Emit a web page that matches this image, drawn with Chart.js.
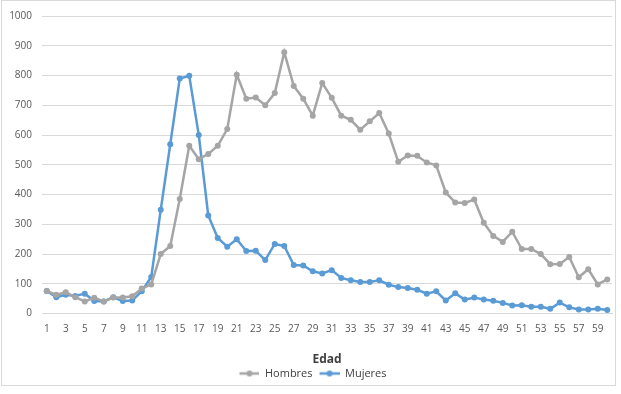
<!DOCTYPE html>
<html>
<head>
<meta charset="utf-8">
<script src="https://cdn.jsdelivr.net/npm/chart.js@4.4.1/dist/chart.umd.min.js"></script>
<style>
  html, body { margin: 0; padding: 0; background: #fff; }
  #frame {
    position: absolute; left: 1px; top: 0px; width: 615px; height: 386px;
    border: 1px solid #d9d9d9; box-sizing: border-box;
  }
  #wrap { position: absolute; left: 0; top: 0; width: 621px; height: 394px; }
</style>
</head>
<body>
<div id="frame"></div>
<div id="wrap"><canvas id="chart" width="621" height="394"></canvas></div>
<script>
const edades = Array.from({ length: 60 }, (_, i) => String(i + 1));

const hombres = [
  76, 63, 72, 55, 41, 53, 41, 54, 54, 58,
  84, 98, 200, 227, 385, 564, 519, 536, 564, 620,
  803, 722, 726, 700, 741, 878, 765, 722, 665, 775,
  725, 665, 651, 618, 646, 674, 605, 510, 531, 530,
  508, 498, 407, 373, 372, 383, 305, 261, 241, 275,
  217, 217, 200, 166, 167, 190, 122, 149, 98, 115
];

const mujeres = [
  76, 55, 63, 59, 67, 42, 41, 55, 42, 44,
  75, 123, 349, 569, 790, 799, 600, 330, 254, 225,
  250, 210, 211, 180, 234, 227, 163, 162, 142, 135,
  146, 120, 112, 106, 106, 112, 97, 89, 86, 80,
  67, 75, 44, 68, 47, 54, 47, 43, 36, 27,
  28, 23, 23, 16, 37, 21, 14, 14, 16, 12
];

const yTicks = [0, 100, 200, 300, 400, 500, 600, 700, 800, 900, 1000];

const GRIS = "#a5a5a5";
const AZUL = "#5b9bd5";
const FONT = "'Open Sans', 'Noto Sans', sans-serif";

// marcador de leyenda: linea con punto, con un hueco a la izquierda
function legendMarker(color) {
  const c = document.createElement("canvas");
  c.width = 26; c.height = 8;
  const g = c.getContext("2d");
  g.strokeStyle = color;
  g.lineWidth = 2.5;
  g.beginPath(); g.moveTo(6, 4); g.lineTo(26, 4); g.stroke();
  g.fillStyle = color;
  g.beginPath(); g.arc(16, 4, 3, 0, Math.PI * 2); g.fill();
  return c;
}

const ctx = document.getElementById("chart").getContext("2d");

new Chart(ctx, {
  type: "line",
  data: {
    labels: edades,
    datasets: [
      {
        label: "Hombres",
        data: hombres,
        borderColor: GRIS,
        backgroundColor: GRIS,
        borderWidth: 2.5,
        pointRadius: 3,
        pointBackgroundColor: GRIS,
        pointBorderWidth: 0,
        tension: 0
      },
      {
        label: "Mujeres",
        data: mujeres,
        borderColor: AZUL,
        backgroundColor: AZUL,
        borderWidth: 2.5,
        pointRadius: 3,
        pointBackgroundColor: AZUL,
        pointBorderWidth: 0,
        tension: 0
      }
    ]
  },
  options: {
    responsive: false,
    animation: false,
    layout: { padding: { left: 8, right: 9, top: 9, bottom: 5 } },
    plugins: {
      tooltip: { enabled: false },
      legend: {
        position: "bottom",
        labels: {
          color: "#404040",
          font: { family: FONT, size: 11 },
          padding: 1,
          usePointStyle: true,
          pointStyleWidth: 26,
          generateLabels: chart => chart.data.datasets.map((ds, i) => ({
            text: ds.label,
            fillStyle: ds.borderColor,
            strokeStyle: ds.borderColor,
            fontColor: "#404040",
            pointStyle: legendMarker(ds.borderColor),
            datasetIndex: i
          }))
        }
      }
    },
    scales: {
      x: {
        offset: true,
        grid: { display: false, drawTicks: false },
        border: { display: true, color: "#d9d9d9" },
        ticks: {
          color: "#595959",
          font: { family: FONT, size: 10 },
          autoSkip: false,
          maxRotation: 0,
          padding: 10,
          callback: function (value, index) {
            return index % 2 === 0 ? this.getLabelForValue(value) : "";
          }
        },
        title: {
          display: true,
          text: "Edad",
          color: "#404040",
          font: { family: FONT, size: 12, weight: "bold" },
          padding: { top: 7, bottom: 0 }
        }
      },
      y: {
        min: 0,
        max: 1000,
        afterBuildTicks: axis => { axis.ticks = yTicks.map(v => ({ value: v })); },
        afterFit: axis => { axis.width = 34; },
        grid: { color: "#d9d9d9", drawTicks: false },
        border: { display: false },
        ticks: {
          color: "#595959",
          font: { family: FONT, size: 10 },
          padding: 10,
          callback: value => String(value)
        }
      }
    }
  }
});
</script>
</body>
</html>
